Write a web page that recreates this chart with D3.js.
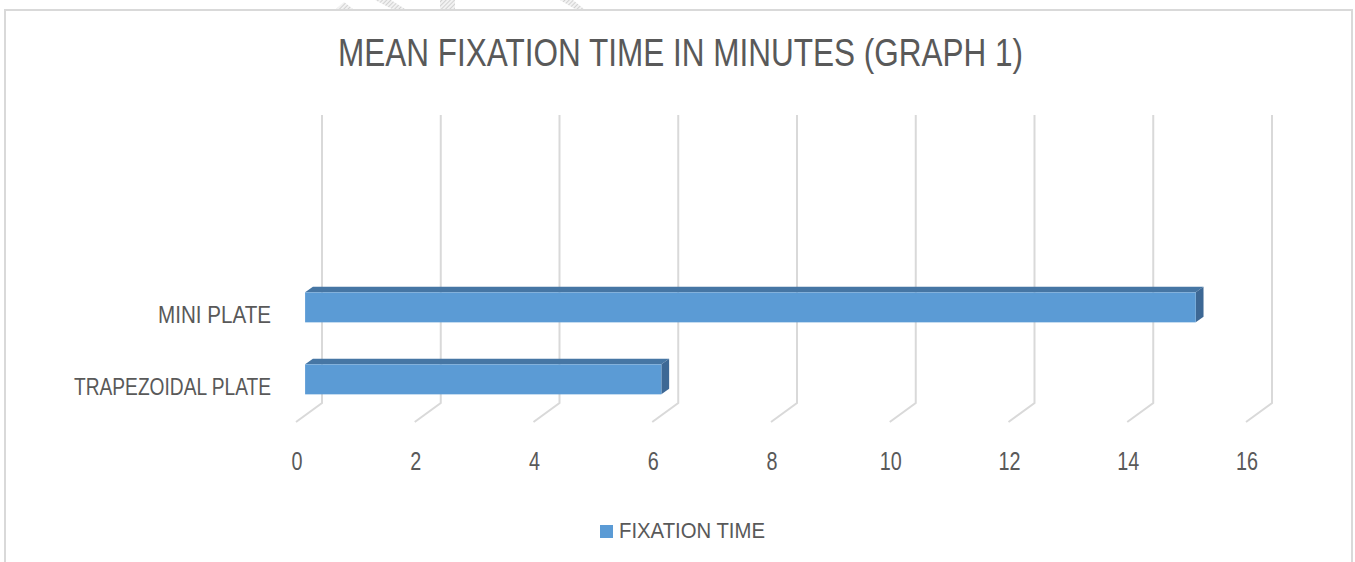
<!DOCTYPE html>
<html>
<head>
<meta charset="utf-8">
<script src="https://cdn.jsdelivr.net/npm/d3@7/dist/d3.min.js"></script>
<style>
  html, body { margin: 0; padding: 0; background: #ffffff; }
  svg { display: block; }
  text { font-family: "Liberation Sans Narrow", "Arial Narrow", "Liberation Sans", sans-serif; fill: #595959; }
</style>
</head>
<body>
<svg id="chart" width="1355" height="562"></svg>
<script>
// Chart data: categories listed top to bottom (two empty slots at the top)
const categories = ["", "", "MINI PLATE", "TRAPEZOIDAL PLATE"];
const fixationTime = [null, null, 15, 6];
const xTicks = [0, 2, 4, 6, 8, 10, 12, 14, 16];
const titleText = "MEAN FIXATION TIME IN MINUTES (GRAPH 1)";
const seriesName = "FIXATION TIME";

const W = 1355, H = 562;
const svg = d3.select("#chart");

// faint page marks along the top edge
const defs = svg.append("defs");
const hatch = defs.append("pattern")
  .attr("id", "hatch").attr("width", 3).attr("height", 3)
  .attr("patternUnits", "userSpaceOnUse").attr("patternTransform", "rotate(45)");
hatch.append("rect").attr("width", 3).attr("height", 3).attr("fill", "#f2f2f2");
hatch.append("line").attr("x1", 0).attr("y1", 0).attr("x2", 0).attr("y2", 3)
  .attr("stroke", "#c8c8c8").attr("stroke-width", 1.5);
const marks = [
  [[336, 9], [344, 2], [353, 9]],
  [[375, 0], [391, 0], [405, 9], [392, 9]],
  [[440, 0], [455, 0], [455, 9], [440, 9]],
  [[560, 0], [573, 0], [584, 9], [575, 9]]
];
svg.append("g").selectAll("polygon").data(marks).join("polygon")
  .attr("points", d => d.map(p => p.join(",")).join(" "))
  .attr("fill", "url(#hatch)");

// chart area border
svg.append("rect")
  .attr("x", 5).attr("y", 10).attr("width", 1347).attr("height", 600)
  .attr("fill", "#ffffff").attr("stroke", "#d9d9d9").attr("stroke-width", 2);

// title
svg.append("text")
  .attr("x", 680.5).attr("y", 66)
  .attr("text-anchor", "middle")
  .attr("font-size", 38)
  .attr("textLength", 685).attr("lengthAdjust", "spacingAndGlyphs")
  .text(titleText);

// scales on the back wall of the 3-D plot
const x = d3.scaleLinear().domain([0, 16]).range([322, 1272]);
const y = d3.scaleBand().domain(d3.range(categories.length))
  .range([115, 403]).paddingInner(0.5833).paddingOuter(0.2917);

// depth vector from the back wall to the front edge of the floor
const depth = { dx: -26, dy: 19 };
const barBack = 0.35, barFront = 0.65;
const floorY = y.range()[1];

// gridlines: vertical on the back wall plus a diagonal floor stub
const grid = svg.append("g").attr("stroke", "#d9d9d9").attr("stroke-width", 2).attr("fill", "none");
grid.selectAll("path").data(xTicks).join("path")
  .attr("d", v => {
    const gx = x(v);
    return `M${gx},${y.range()[0]}L${gx},${floorY}L${gx + depth.dx},${floorY + depth.dy}`;
  });

// tick labels at the front edge of the floor
svg.append("g").selectAll("text").data(xTicks).join("text")
  .attr("x", v => x(v) + depth.dx + 1)
  .attr("y", floorY + depth.dy + 48)
  .attr("text-anchor", "middle")
  .attr("font-size", 25)
  .attr("textLength", v => String(v).length * 11)
  .attr("lengthAdjust", "spacingAndGlyphs")
  .text(v => v);

// category labels, aligned with the front plane
svg.append("g").selectAll("text").data(categories).join("text")
  .attr("x", 271)
  .attr("y", (d, i) => y(i) + y.bandwidth() / 2 + depth.dy + 1)
  .attr("dy", "0.35em")
  .attr("text-anchor", "end")
  .attr("font-size", 24)
  .each(function (d) {
    const t = d3.select(this).text(d);
    if (d === "MINI PLATE") t.attr("textLength", 113).attr("lengthAdjust", "spacingAndGlyphs");
    if (d === "TRAPEZOIDAL PLATE") t.attr("textLength", 197).attr("lengthAdjust", "spacingAndGlyphs");
  });

// 3-D bars
const f = { dx: depth.dx * barFront, dy: depth.dy * barFront };
const b = { dx: depth.dx * barBack, dy: depth.dy * barBack };
const barData = categories.map((c, i) => ({ c, i, v: fixationTime[i] })).filter(d => d.v != null);
const bars = svg.append("g").selectAll("g").data(barData).join("g");
const pts = arr => arr.map(p => p.join(",")).join(" ");

bars.append("polygon") // top face
  .attr("fill", "#4676a4")
  .attr("points", d => {
    const x0 = x(0), x1 = x(d.v), yt = y(d.i);
    return pts([[x0 + f.dx, yt + f.dy], [x1 + f.dx, yt + f.dy], [x1 + b.dx, yt + b.dy], [x0 + b.dx, yt + b.dy]]);
  });
bars.append("polygon") // end face
  .attr("fill", "#3d6895")
  .attr("points", d => {
    const x1 = x(d.v), yt = y(d.i), yb = yt + y.bandwidth();
    return pts([[x1 + f.dx, yt + f.dy], [x1 + b.dx, yt + b.dy], [x1 + b.dx, yb + b.dy], [x1 + f.dx, yb + f.dy]]);
  });
bars.append("rect") // front face
  .attr("fill", "#5b9bd5")
  .attr("x", x(0) + f.dx)
  .attr("y", d => y(d.i) + f.dy)
  .attr("width", d => x(d.v) - x(0))
  .attr("height", y.bandwidth());

// legend
const legend = svg.append("g");
legend.append("rect")
  .attr("x", 600).attr("y", 525).attr("width", 13).attr("height", 13)
  .attr("fill", "#5b9bd5");
legend.append("text")
  .attr("x", 619).attr("y", 538)
  .attr("font-size", 22)
  .attr("textLength", 146).attr("lengthAdjust", "spacingAndGlyphs")
  .text(seriesName);
</script>
</body>
</html>
